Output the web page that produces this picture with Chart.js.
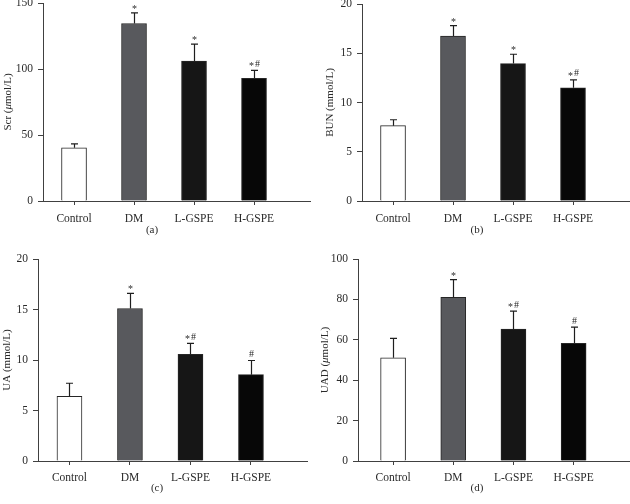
<!DOCTYPE html>
<html>
<head>
<meta charset="utf-8">
<script src="https://cdn.jsdelivr.net/npm/chart.js@4"></script>
<style>
  body { margin: 0; background: #fff; }
  #wrap { position: relative; width: 630px; height: 504px; }
  .panel { position: absolute; width: 315px; height: 252px; }
</style>
</head>
<body>
<div id="wrap">
  <div class="panel" style="left:0;top:0"><canvas id="chartA" width="315" height="252"></canvas></div>
  <div class="panel" style="left:315px;top:0"><canvas id="chartB" width="315" height="252"></canvas></div>
  <div class="panel" style="left:0;top:252px"><canvas id="chartC" width="315" height="252"></canvas></div>
  <div class="panel" style="left:315px;top:252px"><canvas id="chartD" width="315" height="252"></canvas></div>
</div>
<script>
const groups = ['Control', 'DM', 'L-GSPE', 'H-GSPE'];
const barColors = ['#ffffff', '#58595d', '#161616', '#070707'];

const scrMean = [40.3, 134.5, 106, 93];
const scrSd = [3, 8, 12.8, 6];
const scrMarks = ['', '*', '*', '*#'];

const bunMean = [7.65, 16.75, 13.95, 11.5];
const bunSd = [0.6, 1.05, 0.95, 0.8];
const bunMarks = ['', '*', '*', '*#'];

const uaMean = [6.4, 15.1, 10.55, 8.55];
const uaSd = [1.3, 1.5, 1.1, 1.4];
const uaMarks = ['', '*', '*#', '#'];

const uadMean = [51.1, 81, 65.3, 58.3];
const uadSd = [9.6, 8.8, 8.9, 8];
const uadMarks = ['', '*', '*#', '#'];

const serif = "'Liberation Serif', 'DejaVu Serif', serif";
const axisColor = '#404040';
const textColor = '#2a2a2a';

// error bars, significance marks, axis title and panel letter
const extras = {
  id: 'extras',
  afterDatasetsDraw(chart) {
    const o = chart.options.plugins.extras;
    const ctx = chart.ctx;
    const xs = chart.scales.x, ys = chart.scales.y;
    ctx.save();
    ctx.strokeStyle = '#1e1e1e';
    ctx.lineWidth = 1.2;
    ctx.fillStyle = textColor;
    ctx.textAlign = 'left';
    ctx.textBaseline = 'alphabetic';
    ctx.font = '10px ' + serif;
    o.mean.forEach((m, i) => {
      const x = Math.round(xs.getPixelForValue(i)) + 0.5;
      const yBar = ys.getPixelForValue(m);
      const yTop = ys.getPixelForValue(m + o.sd[i]);
      ctx.beginPath();
      ctx.moveTo(x, yBar);
      ctx.lineTo(x, yTop);
      ctx.moveTo(x - 3.5, yTop);
      ctx.lineTo(x + 3.5, yTop);
      ctx.stroke();
      const mark = o.marks[i];
      if (!mark) return;
      const chars = mark.split('');
      const gap = 1;
      const total = chars.reduce((s, c) => s + ctx.measureText(c).width, 0) + gap * (chars.length - 1);
      let cx = x - total / 2;
      chars.forEach(c => {
        // the serif asterisk sits high, pull it down to line up with '#'
        ctx.fillText(c, cx, c === '*' ? yTop - 1 : yTop - 3.5);
        cx += ctx.measureText(c).width + gap;
      });
    });
    ctx.restore();
  },
  afterDraw(chart) {
    const o = chart.options.plugins.extras;
    const ctx = chart.ctx;
    const area = chart.chartArea;
    ctx.save();
    ctx.fillStyle = textColor;
    ctx.textBaseline = 'middle';
    // y axis title, made of parts so that the mu can be italic
    const fonts = o.title.map(p => (p[1] ? 'italic ' : '') + '11px ' + serif);
    let total = 0;
    o.title.forEach((p, i) => { ctx.font = fonts[i]; total += ctx.measureText(p[0]).width; });
    ctx.translate(o.titleX, (area.top + area.bottom) / 2);
    ctx.rotate(-Math.PI / 2);
    ctx.textAlign = 'left';
    let pos = -total / 2;
    o.title.forEach((p, i) => {
      ctx.font = fonts[i];
      ctx.fillText(p[0], pos, 0);
      pos += ctx.measureText(p[0]).width;
    });
    ctx.setTransform(1, 0, 0, 1, 0, 0);
    ctx.font = '11px ' + serif;
    ctx.textAlign = 'center';
    ctx.fillText(o.letter, o.letterX, o.letterY);
    ctx.restore();
  }
};

function makePanel(id, o) {
  new Chart(document.getElementById(id), {
    type: 'bar',
    data: {
      datasets: [{
        data: o.mean.map((v, i) => ({ x: i, y: v })),
        backgroundColor: barColors,
        borderColor: '#262626',
        borderWidth: 1,
        barThickness: 25
      }]
    },
    options: {
      responsive: false,
      animation: false,
      devicePixelRatio: 1,
      layout: { padding: { top: o.top, right: o.right, left: 0, bottom: 0 } },
      plugins: {
        legend: { display: false },
        tooltip: { enabled: false },
        extras: o
      },
      scales: {
        x: {
          type: 'linear',
          offset: false,
          min: o.xmin,
          max: o.xmax,
          afterBuildTicks: s => { s.ticks = groups.map((g, i) => ({ value: i })); },
          afterFit: s => { s.height = o.xh; s.paddingLeft = 0; s.paddingRight = 0; },
          ticks: { callback: v => groups[v], font: { family: serif, size: 11.5 }, color: textColor, padding: o.xpad, maxRotation: 0, autoSkip: false },
          grid: { offset: false, drawOnChartArea: false, drawTicks: true, tickLength: 4, color: axisColor },
          border: { color: axisColor, width: 1 }
        },
        y: {
          min: 0,
          max: o.ymax,
          afterFit: s => { s.width = o.yw; s.paddingTop = 0; s.paddingBottom = 0; },
          ticks: { stepSize: o.step, font: { family: serif, size: 11.5 }, color: textColor, padding: 5 },
          grid: { drawOnChartArea: false, drawTicks: true, tickLength: 5, color: axisColor },
          border: { color: axisColor, width: 1 }
        }
      }
    },
    plugins: [extras]
  });
}

makePanel('chartA', {
  mean: scrMean, sd: scrSd, marks: scrMarks,
  ymax: 150, step: 50, top: 3, right: 5, yw: 43, xh: 51, xpad: 7,
  xmin: -0.517, xmax: 3.933,
  title: [['Scr (', false], ['\u03bc', true], ['mol/L)', false]], titleX: 8,
  letter: '(a)', letterX: 152, letterY: 230
});
makePanel('chartB', {
  mean: bunMean, sd: bunSd, marks: bunMarks,
  ymax: 20, step: 5, top: 4, right: 0, yw: 47, xh: 51, xpad: 7,
  xmin: -0.517, xmax: 3.95,
  title: [['BUN (mmol/L)', false]], titleX: 15,
  letter: '(b)', letterX: 162, letterY: 230
});
makePanel('chartC', {
  mean: uaMean, sd: uaSd, marks: uaMarks,
  ymax: 20, step: 5, top: 7, right: 8, yw: 38, xh: 43, xpad: 6,
  xmin: -0.52, xmax: 3.926,
  title: [['UA (mmol/L)', false]], titleX: 7,
  letter: '(c)', letterX: 157, letterY: 236
});
makePanel('chartD', {
  mean: uadMean, sd: uadSd, marks: uadMarks,
  ymax: 100, step: 20, top: 7, right: 0, yw: 43, xh: 43, xpad: 6,
  xmin: -0.583, xmax: 3.937,
  title: [['UAD (', false], ['\u03bc', true], ['mol/L)', false]], titleX: 10,
  letter: '(d)', letterX: 162, letterY: 236
});
</script>
</body>
</html>
